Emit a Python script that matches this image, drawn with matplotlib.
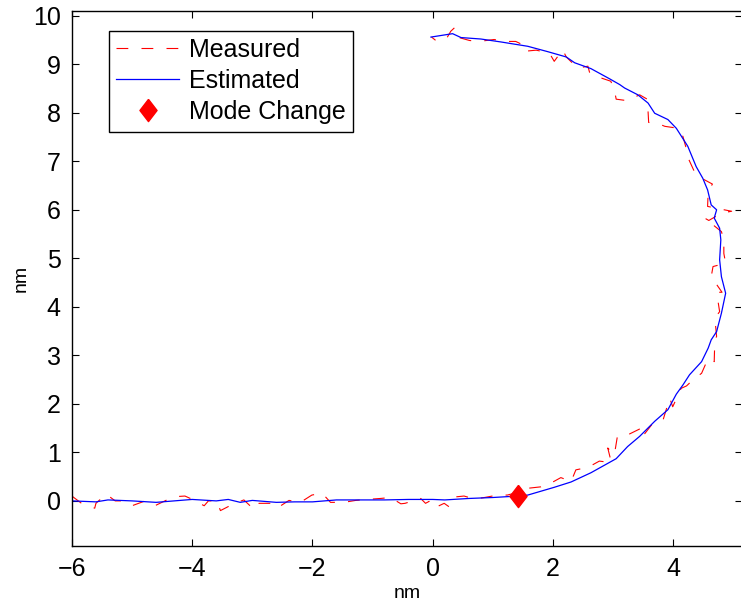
import matplotlib
matplotlib.use('Agg')
import matplotlib.pyplot as plt

plt.rcParams['font.family'] = ['Liberation Sans', 'DejaVu Sans']
plt.rcParams['lines.scale_dashes'] = False

# estimated trajectory (top -> bottom left)
est_x = [-0.03, 0.33, 0.47, 0.8, 1.13, 1.58, 1.91, 2.22, 2.36, 2.63, 2.94, 3.11, 3.19,
         3.41, 3.58, 3.69, 3.91, 4.05, 4.24, 4.38, 4.49, 4.57, 4.63, 4.72, 4.68, 4.77,
         4.79, 4.77, 4.8, 4.87, 4.8, 4.72, 4.63, 4.58, 4.47, 4.27, 4.16, 4.05, 3.91,
         3.69, 3.44, 3.24, 3.05, 2.63, 2.3, 2.02, 1.58, 1.41, 1.0, 0.6, 0.2, 0.0, -0.4,
         -0.8, -1.2, -1.6, -1.8, -2.0, -2.3, -2.6, -3.0, -3.2, -3.4, -3.6, -4.0, -4.3,
         -4.6, -5.0, -5.4, -5.6, -6.0]
est_y = [9.56, 9.63, 9.55, 9.52, 9.46, 9.37, 9.26, 9.15, 9.03, 8.91, 8.7, 8.58, 8.51,
         8.37, 8.2, 7.99, 7.86, 7.68, 7.31, 6.89, 6.65, 6.41, 6.1, 6.0, 5.83, 5.62,
         5.38, 4.97, 4.62, 4.28, 3.87, 3.49, 3.32, 3.15, 2.87, 2.6, 2.39, 2.2, 1.88,
         1.64, 1.33, 1.12, 0.87, 0.58, 0.39, 0.28, 0.12, 0.1, 0.07, 0.05, 0.02, 0.03, 0.03,
         0.02, 0.02, 0.02, 0.0, -0.02, -0.02, -0.03, 0.01, -0.03, 0.03, 0.0, 0.03, 0.0,
         -0.03, 0.0, 0.02, -0.02, 0.0]

# measured positions (bottom left -> top)
meas_x = [-6.0, -5.84, -5.62, -5.6, -5.43, -5.28, -5.2, -5.0, -4.78, -4.62, -4.42, -4.25,
          -4.12, -4.03, -3.8, -3.73, -3.59, -3.53, -3.31, -3.14, -2.97, -2.89, -2.7, -2.59,
          -2.39, -2.2, -2.01, -1.84, -1.7, -1.48, -1.28, -1.09, -0.87, -0.7, -0.53, -0.46,
          -0.2, -0.12, -0.06, 0.02, 0.19, 0.27, 0.36, 0.52, 0.69, 0.86, 1.08, 1.24, 1.52,
          1.58, 1.8, 1.94, 2.13, 2.3, 2.38, 2.58, 2.77, 2.97, 2.91, 3.02, 3.07, 3.24, 3.47,
          3.49, 3.66, 3.83, 3.94, 3.99, 4.13, 4.22, 4.33, 4.47, 4.58, 4.68, 4.69, 4.72,
          4.69, 4.77, 4.72, 4.81, 4.63, 4.66, 4.87, 4.84, 4.84, 4.8, 4.52, 4.59, 4.8, 4.97,
          4.72, 4.57, 4.58, 4.65, 4.47, 4.36, 4.26, 4.22, 4.16, 4.08, 3.86, 3.72, 3.59,
          3.58, 3.58, 3.44, 3.23, 3.05, 3.02, 2.96, 2.72, 2.61, 2.58, 2.41, 2.22, 2.16,
          2.02, 1.94, 1.72, 1.55, 1.55, 1.38, 1.19, 1.02, 0.77, 0.61, 0.38, 0.36, 0.3,
          0.22, 0.05, -0.02]
meas_y = [0.1, -0.05, -0.15, -0.05, 0.14, 0.0, 0.0, -0.1, 0.0, -0.1, 0.02, 0.09,
          0.1, 0.05, -0.1, 0.0, 0.0, -0.2, -0.06, 0.02, -0.18, -0.05, -0.05, -0.15,
          0.01, -0.03, 0.12, 0.16, -0.03, -0.03, 0.01, 0.03, 0.05, 0.07, -0.06, -0.05,
          0.05, -0.05, -0.01, -0.15, -0.05, -0.12, 0.08, 0.1, 0.04, 0.07, 0.12, 0.12, 0.21,
          0.26, 0.29, 0.35, 0.48, 0.4, 0.64, 0.69, 0.82, 0.79, 1.09, 0.95, 1.33, 1.36, 1.5,
          1.33, 1.6, 1.67, 2.12, 1.94, 2.32, 2.37, 2.5, 2.63, 2.94, 2.87, 3.32, 3.39,
          3.77, 3.9, 4.3, 4.3, 4.62, 4.83, 4.9, 5.1, 5.38, 5.55, 5.83, 5.78, 5.93, 5.97,
          6.03, 6.07, 6.38, 6.53, 6.65, 6.76, 7.03, 7.24, 7.51, 7.68, 7.72, 7.79, 7.8,
          8.03, 8.27, 8.37, 8.25, 8.28, 8.47, 8.65, 8.75, 8.82, 8.96, 8.92, 9.15, 9.3,
          9.06, 9.23, 9.29, 9.27, 9.37, 9.47, 9.47, 9.51, 9.47, 9.49, 9.57, 9.75, 9.68,
          9.51, 9.49, 9.56]

mode_x = [1.41]
mode_y = [0.1]

fig = plt.figure(figsize=(7.41, 6.04), dpi=100)
ax = fig.add_axes([0.097, 0.096, 0.905, 0.886])

ax.plot(meas_x, meas_y, color='red', lw=0.8, linestyle=(0, (8.5, 9.5)), label='Measured')
ax.plot(est_x, est_y, color='blue', lw=0.9, label='Estimated')
diamond = [(0, 1), (0.77, 0), (0, -1), (-0.77, 0), (0, 1)]
ax.plot(mode_x, mode_y, linestyle='none', marker=diamond, markersize=16,
        color='red', label='Mode Change')

ax.set_xlim(-6, 5.15)
ax.set_ylim(-0.93, 10.1)
ax.set_xticks([-6, -4, -2, 0, 2, 4])
ax.set_yticks(range(0, 11))
ax.tick_params(direction='in', length=5, width=0.8, labelsize=18,
               top=True, right=True, pad=8)
for s in ax.spines.values():
    s.set_linewidth(1.0)
ax.set_xlabel('nm', fontsize=14, labelpad=3)
ax.set_ylabel('nm', fontsize=14, labelpad=2)

leg = ax.legend(loc='upper left', bbox_to_anchor=(0.055, 0.963), fontsize=18,
                frameon=True, fancybox=False, edgecolor='black', framealpha=1,
                handlelength=2.5, handletextpad=0.4, labelspacing=0.28,
                borderpad=0.3, borderaxespad=0)
leg.get_frame().set_linewidth(1.0)

fig.savefig('out.png', dpi=100)
